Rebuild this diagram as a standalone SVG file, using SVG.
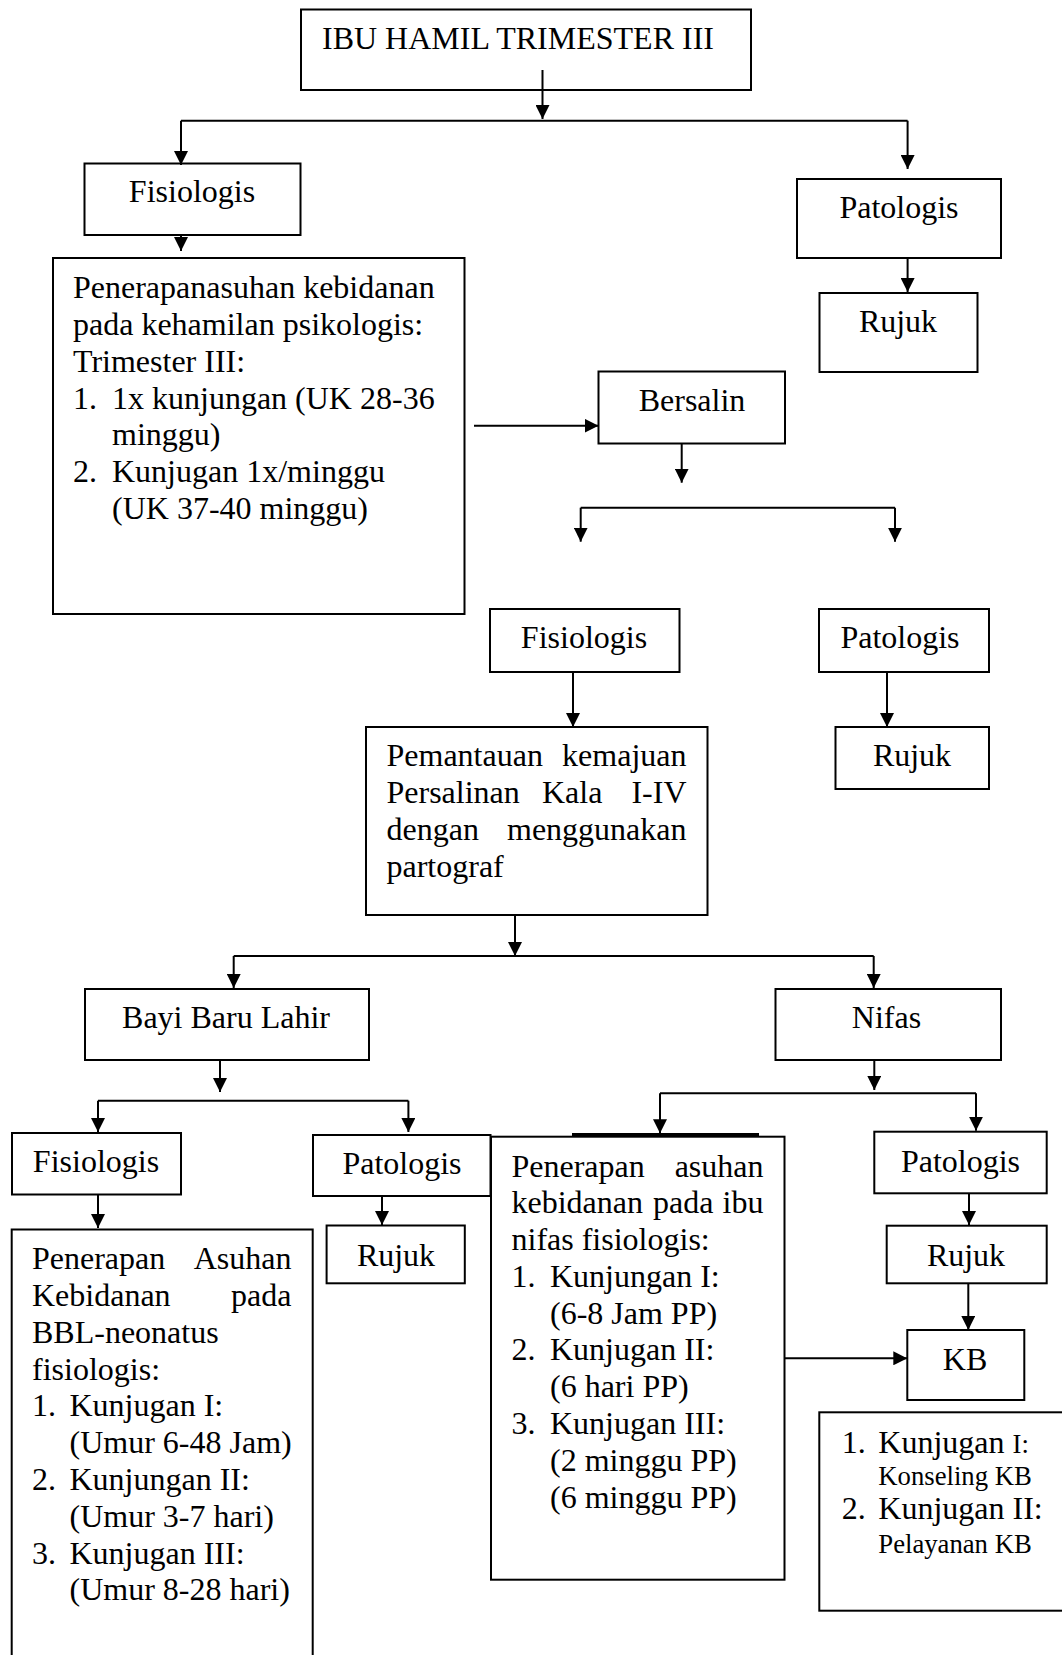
<svg xmlns="http://www.w3.org/2000/svg" width="1062" height="1655" viewBox="0 0 1062 1655">
<style>
.box{fill:#fff;stroke:#000;stroke-width:2}
.t{font-family:"Liberation Serif","Times New Roman",serif;font-size:32px;fill:#000}
.c{text-anchor:middle}
.e{text-anchor:end}
.s{font-size:26.7px}
.ln{stroke:#000;stroke-width:2;fill:none}
.ar{marker-end:url(#ah)}
</style>
<defs>
<marker id="ah" viewBox="0 0 14 14" refX="14" refY="7" markerWidth="14" markerHeight="14" markerUnits="userSpaceOnUse" orient="auto">
<path d="M0,0 L14,7 L0,14 z" fill="#000"/>
</marker>
</defs>
<rect x="0" y="0" width="1062" height="1655" fill="#fff"/>

<g id="n-ibu"><rect class="box" x="301" y="9.5" width="450" height="80.5"/><text class="t" x="322" y="49">IBU HAMIL TRIMESTER III</text></g>
<g id="n-fis1"><rect class="box" x="84.5" y="163.5" width="216" height="71.5"/><text class="t c" x="192" y="202">Fisiologis</text></g>
<g id="n-pat1"><rect class="box" x="797" y="179" width="204" height="79"/><text class="t c" x="899" y="218">Patologis</text></g>
<g id="n-asuhan-hamil"><rect class="box" x="53" y="258" width="411.5" height="356"/>
<text class="t" x="73" y="298">Penerapanasuhan kebidanan</text>
<text class="t" x="73" y="335">pada kehamilan psikologis:</text>
<text class="t" x="73" y="371.5">Trimester III:</text>
<text class="t" x="73" y="408.5">1.</text><text class="t" x="112" y="408.5">1x kunjungan (UK 28-36</text>
<text class="t" x="112" y="445">minggu)</text>
<text class="t" x="73" y="482">2.</text><text class="t" x="112" y="482">Kunjugan 1x/minggu</text>
<text class="t" x="112" y="519">(UK 37-40 minggu)</text>
</g>
<g id="n-rujuk1"><rect class="box" x="819.5" y="293" width="158" height="79"/><text class="t c" x="898" y="332">Rujuk</text></g>
<g id="n-bersalin"><rect class="box" x="598.5" y="371.5" width="186.5" height="72"/><text class="t c" x="692" y="411">Bersalin</text></g>
<g id="n-fis2"><rect class="box" x="490" y="609" width="189.5" height="63"/><text class="t c" x="584" y="648">Fisiologis</text></g>
<g id="n-pat2"><rect class="box" x="819" y="609" width="170" height="63"/><text class="t c" x="900" y="648">Patologis</text></g>
<g id="n-pemantauan"><rect class="box" x="366" y="727" width="341.5" height="188"/>
<text class="t" x="386.5" y="766">Pemantauan</text><text class="t e" x="686.5" y="766">kemajuan</text>
<text class="t" x="386.5" y="803">Persalinan</text><text class="t" x="542" y="803">Kala</text><text class="t e" x="686.5" y="803">I-IV</text>
<text class="t" x="386.5" y="840">dengan</text><text class="t e" x="686.5" y="840">menggunakan</text>
<text class="t" x="386.5" y="877">partograf</text>
</g>
<g id="n-rujuk2"><rect class="box" x="835.5" y="727" width="153.5" height="62"/><text class="t c" x="912" y="766">Rujuk</text></g>
<g id="n-bayi"><rect class="box" x="85" y="989" width="284" height="71"/><text class="t c" x="226" y="1028">Bayi Baru Lahir</text></g>
<g id="n-nifas"><rect class="box" x="775.5" y="989" width="225.5" height="71"/><text class="t c" x="886.5" y="1028">Nifas</text></g>
<g id="n-fis3"><rect class="box" x="12" y="1133" width="169" height="61.5"/><text class="t c" x="96" y="1172">Fisiologis</text></g>
<g id="n-pat3"><rect class="box" x="313" y="1135" width="177.5" height="61"/><text class="t c" x="402" y="1174">Patologis</text></g>
<g id="n-asuhan-nifas"><rect class="box" x="491" y="1136.7" width="293.5" height="443"/>
<line x1="572" y1="1134.8" x2="759" y2="1134.8" stroke="#000" stroke-width="3.5"/>
<text class="t" x="511.5" y="1176.5">Penerapan</text><text class="t e" x="763.5" y="1176.5">asuhan</text>
<text class="t" x="511.5" y="1213.3">kebidanan</text><text class="t" x="653" y="1213.3">pada</text><text class="t e" x="763.5" y="1213.3">ibu</text>
<text class="t" x="511.5" y="1250">nifas fisiologis:</text>
<text class="t" x="511.5" y="1286.8">1.</text><text class="t" x="550" y="1286.8">Kunjungan I:</text>
<text class="t" x="550" y="1323.6">(6-8 Jam PP)</text>
<text class="t" x="511.5" y="1360.4">2.</text><text class="t" x="550" y="1360.4">Kunjugan II:</text>
<text class="t" x="550" y="1397.2">(6 hari PP)</text>
<text class="t" x="511.5" y="1434">3.</text><text class="t" x="550" y="1434">Kunjugan III:</text>
<text class="t" x="550" y="1470.8">(2 minggu PP)</text>
<text class="t" x="550" y="1507.6">(6 minggu PP)</text>
</g>
<g id="n-pat4"><rect class="box" x="874.3" y="1131.7" width="172.4" height="61.6"/><text class="t c" x="960.5" y="1171.7">Patologis</text></g>
<g id="n-asuhan-bbl"><rect class="box" x="11.7" y="1229.5" width="301" height="500"/>
<text class="t" x="32" y="1269.3">Penerapan</text><text class="t e" x="291.4" y="1269.3">Asuhan</text>
<text class="t" x="32" y="1306">Kebidanan</text><text class="t e" x="291.4" y="1306">pada</text>
<text class="t" x="32" y="1342.8">BBL-neonatus</text>
<text class="t" x="32" y="1379.6">fisiologis:</text>
<text class="t" x="32" y="1416.4">1.</text><text class="t" x="69.5" y="1416.4">Kunjugan I:</text>
<text class="t" x="69.5" y="1453.2">(Umur 6-48 Jam)</text>
<text class="t" x="32" y="1490">2.</text><text class="t" x="69.5" y="1490">Kunjungan II:</text>
<text class="t" x="69.5" y="1526.8">(Umur 3-7 hari)</text>
<text class="t" x="32" y="1563.6">3.</text><text class="t" x="69.5" y="1563.6">Kunjugan III:</text>
<text class="t" x="69.5" y="1600.4">(Umur 8-28 hari)</text>
</g>
<g id="n-rujuk3"><rect class="box" x="326.6" y="1225.5" width="138.2" height="57.8"/><text class="t c" x="396" y="1266">Rujuk</text></g>
<g id="n-rujuk4"><rect class="box" x="886.7" y="1225.7" width="160" height="57.6"/><text class="t c" x="966" y="1265.7">Rujuk</text></g>
<g id="n-kb"><rect class="box" x="907.3" y="1330" width="117" height="70"/><text class="t c" x="965" y="1369.5">KB</text></g>
<g id="n-kb-list"><rect class="box" x="819.3" y="1412.3" width="260" height="198.4"/>
<text class="t" x="841.7" y="1453.3">1.</text><text class="t" x="878.3" y="1453.3">Kunjugan <tspan class="s">I:</tspan></text>
<text class="t s" x="878.3" y="1484.5">Konseling KB</text>
<text class="t" x="841.7" y="1519.3">2.</text><text class="t" x="878.3" y="1519.3">Kunjugan II:</text>
<text class="t s" x="878.3" y="1552.7">Pelayanan KB</text>
</g>

<g id="connectors">
<line class="ln ar" x1="542.5" y1="70" x2="542.5" y2="119"/>
<path class="ln" d="M181,120.7 H907.6"/>
<line class="ln ar" x1="181" y1="120.7" x2="181" y2="165"/>
<line class="ln ar" x1="907.6" y1="120.7" x2="907.6" y2="169"/>
<line class="ln ar" x1="181" y1="235" x2="181" y2="251"/>
<line class="ln ar" x1="907.6" y1="258" x2="907.6" y2="292"/>
<line class="ln ar" x1="474" y1="425.7" x2="598.5" y2="425.7"/>
<line class="ln ar" x1="681.7" y1="443.3" x2="681.7" y2="482.7"/>
<path class="ln" d="M580.7,507.7 H895"/>
<line class="ln ar" x1="580.7" y1="507.7" x2="580.7" y2="541.7"/>
<line class="ln ar" x1="895" y1="507.7" x2="895" y2="541.7"/>
<line class="ln ar" x1="573" y1="672" x2="573" y2="727"/>
<line class="ln ar" x1="887" y1="672" x2="887" y2="727"/>
<line class="ln ar" x1="515" y1="915" x2="515" y2="956"/>
<path class="ln" d="M233.7,956 H873.7"/>
<line class="ln ar" x1="233.7" y1="956" x2="233.7" y2="988"/>
<line class="ln ar" x1="873.7" y1="956" x2="873.7" y2="988"/>
<line class="ln ar" x1="220" y1="1060" x2="220" y2="1092"/>
<path class="ln" d="M98,1100.7 H408.4"/>
<line class="ln ar" x1="98" y1="1100.7" x2="98" y2="1132"/>
<line class="ln ar" x1="408.4" y1="1100.7" x2="408.4" y2="1132"/>
<line class="ln ar" x1="874.3" y1="1060" x2="874.3" y2="1090"/>
<path class="ln" d="M660,1093.3 H976"/>
<line class="ln ar" x1="660" y1="1093.3" x2="660" y2="1133.3"/>
<line class="ln ar" x1="976" y1="1093.3" x2="976" y2="1130.7"/>
<line class="ln ar" x1="98" y1="1194.5" x2="98" y2="1228"/>
<line class="ln ar" x1="382" y1="1196" x2="382" y2="1225"/>
<line class="ln ar" x1="969" y1="1193.3" x2="969" y2="1225"/>
<line class="ln ar" x1="968.3" y1="1283.3" x2="968.3" y2="1330"/>
<line class="ln ar" x1="784.3" y1="1358.3" x2="907.3" y2="1358.3"/>
</g>
</svg>
